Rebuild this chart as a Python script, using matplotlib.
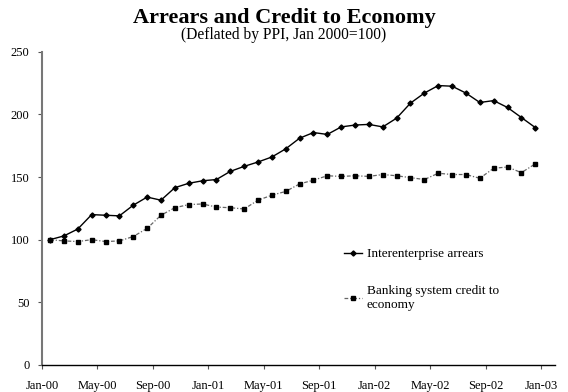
import matplotlib

matplotlib.use("Agg")
import matplotlib.pyplot as plt
import numpy as np

# Monthly series, Jan 2000 .. Dec 2002, deflated by PPI (Jan 2000 = 100)
arrears = [100, 103, 108.5, 120, 119.5, 119, 127.5, 134, 131.5, 141.5,
           145, 147, 148, 154.5, 158.5, 162, 166, 172.5, 181, 185.5,
           184, 190, 191.5, 192, 190, 197, 209, 217, 223, 222.5,
           217, 209.5, 211, 205.5, 197.5, 189.5]
credit = [100, 99, 98.5, 100, 98.5, 99, 102.5, 109, 119.5, 125.5,
          128, 128.5, 126, 125.5, 124.5, 131.5, 135.5, 138.5, 144.5, 147.5,
          151, 150.5, 151, 150.5, 152, 151, 149.5, 148, 153, 152,
          152, 149, 157, 158, 153.5, 160.5]
tick_labels = ["Jan-00", "May-00", "Sep-00", "Jan-01", "May-01",
               "Sep-01", "Jan-02", "May-02", "Sep-02", "Jan-03"]
y_ticks = [0, 50, 100, 150, 200, 250]

plt.rcParams["font.family"] = ["Liberation Serif", "DejaVu Serif"]

fig = plt.figure(figsize=(5.68, 3.92), dpi=100)
ax = fig.add_axes([0.074, 0.069, 0.903, 0.799])

months = np.arange(len(arrears))
ax.plot(months, arrears, color="black", lw=1.0, marker="D", ms=2.6,
        mfc="black", mec="black", label="Interenterprise arrears")
ax.plot(months, credit, color="#666666", lw=0.9, ls=(0, (3, 1.5, 1, 1.5)),
        marker="s", ms=3.2, mfc="black", mec="black",
        label="Banking system credit to\neconomy")

offset = 0.58
ax.set_xlim(-offset, 37 - offset)
ax.set_ylim(0, 250)
ax.set_xticks(np.arange(len(tick_labels)) * 4 - offset)
ax.set_xticklabels(tick_labels, fontsize=9)
ax.set_yticks(y_ticks)
ax.set_yticklabels([str(v) for v in y_ticks], fontsize=9)

for side in ("top", "right"):
    ax.spines[side].set_visible(False)
ax.spines["left"].set_color("#777777")
ax.spines["left"].set_linewidth(1.5)
ax.spines["bottom"].set_color("black")
ax.spines["bottom"].set_linewidth(1.0)
ax.tick_params(axis="both", direction="out", length=3, width=0.8,
               color="#555555", pad=6)
ax.tick_params(axis="x", pad=8)

fig.text(0.5, 0.955, "Arrears and Credit to Economy", ha="center",
         va="center", fontsize=16, fontweight="bold")
fig.text(0.5, 0.911, "(Deflated by PPI, Jan 2000=100)", ha="center",
         va="center", fontsize=11.2)

leg = ax.legend(loc="upper left", bbox_to_anchor=(0.597, 0.381),
                bbox_transform=fig.transFigure, frameon=False, fontsize=9.5,
                handlelength=1.3, handletextpad=0.4, labelspacing=1.9,
                borderaxespad=0)
for t in leg.get_texts():
    t.set_linespacing(1.25)

fig.savefig("out.png", dpi=100)
